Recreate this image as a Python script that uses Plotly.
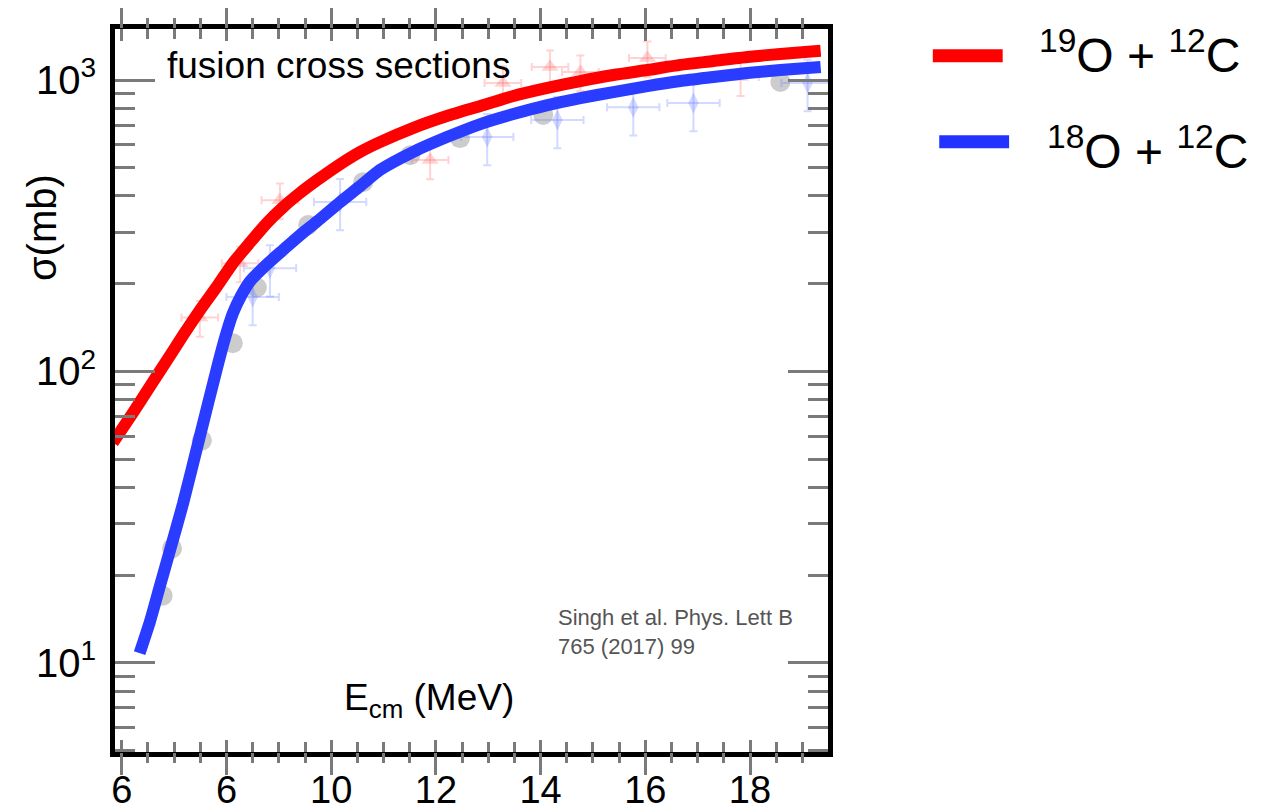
import plotly.graph_objects as go

# theory curves
red_x = [5.83, 6.21, 6.54, 6.86, 7.17, 7.49, 7.82, 8.12, 8.45, 8.77, 9.08, 9.40, 9.73, 10.17, 10.55,
         10.93, 11.56, 12.21, 12.85, 13.48, 14.13, 14.76, 15.39, 16.04, 16.67, 17.30, 17.95, 18.58, 19.35]
red_y = [57, 72, 89, 109, 133, 162, 196, 235, 277, 323, 366, 409, 453, 514, 566,
         612, 684, 752, 814, 881, 939, 992, 1040, 1082, 1127, 1162, 1200, 1228, 1259]

blue_x = [6.34, 6.54, 6.73, 6.92, 7.17, 7.49, 7.82, 7.97, 8.12, 8.28, 8.45, 8.77, 9.08, 9.40, 9.73, 10.17,
          10.55, 10.93, 11.56, 12.21, 12.85, 13.48, 14.13, 14.76, 15.39, 16.04, 16.67, 17.30, 17.95, 18.58, 19.35]
blue_y = [10.8, 13.9, 18.4, 24.3, 35.2, 59.8, 103, 130, 158, 182, 204, 233, 261, 293, 327, 381,
          432, 491, 566, 637, 706, 764, 820, 867, 909, 953, 992, 1024, 1057, 1082, 1109]

# faded experimental points behind the curves
gray_x = [6.78, 6.96, 7.53, 8.12, 8.58, 9.56, 10.61, 11.51, 12.46, 14.05, 18.58]
gray_y = [17, 24.7, 58, 125, 194, 318, 446, 552, 632, 759, 985]

pink_x = [7.49, 8.26, 9.02, 11.89, 13.28, 14.18, 14.76, 16.04, 17.82]
pink_y = [153, 235, 387, 531, 977, 1108, 1065, 1190, 1024]

lblue_x = [8.50, 8.83, 10.17, 12.98, 14.32, 15.77, 16.92, 19.10]
lblue_y = [180, 226, 381, 637, 729, 807, 833, 977]

x_ticks = [6, 8, 10, 12, 14, 16, 18]
x_ticktext = ["6", "6", "10", "12", "14", "16", "18"]
y_ticks = [10, 100, 1000]
y_ticktext = ["10<sup>1</sup>", "10<sup>2</sup>", "10<sup>3</sup>"]

FONT = "Liberation Sans, Arial, sans-serif"
TICKGRAY = "#7a7a7a"

fig = go.Figure()

fig.add_trace(go.Scatter(x=gray_x, y=gray_y, mode="markers",
                         marker=dict(symbol="circle", size=20, color="rgba(170,170,170,0.6)"),
                         showlegend=False))
fig.add_trace(go.Scatter(x=pink_x, y=pink_y, mode="markers",
                         marker=dict(symbol="triangle-up", size=15, color="rgba(255,110,110,0.3)"),
                         error_x=dict(type="constant", value=0.35, color="rgba(255,110,110,0.3)", thickness=2, width=4),
                         error_y=dict(type="percent", value=14, color="rgba(255,110,110,0.3)", thickness=2, width=4),
                         showlegend=False))
fig.add_trace(go.Scatter(x=lblue_x, y=lblue_y, mode="markers",
                         marker=dict(symbol="diamond-tall", size=15, color="rgba(110,130,255,0.3)"),
                         error_x=dict(type="constant", value=0.5, color="rgba(110,130,255,0.3)", thickness=2, width=4),
                         error_y=dict(type="percent", value=20, color="rgba(110,130,255,0.3)", thickness=2, width=4),
                         showlegend=False))

fig.add_trace(go.Scatter(x=red_x, y=red_y, mode="lines", line=dict(color="#ff0000", width=12, shape="spline", smoothing=0.6),
                         name="19O + 12C", showlegend=False))
fig.add_trace(go.Scatter(x=blue_x, y=blue_y, mode="lines", line=dict(color="#2a3cff", width=12, shape="spline", smoothing=0.6),
                         name="18O + 12C", showlegend=False))

# empty trace so the second (outside-tick) x axis gets drawn
fig.add_trace(go.Scatter(x=[], y=[], xaxis="x2", yaxis="y", showlegend=False))

# page body has an 8px margin, so the figure is 8px smaller on each side
xr = [5.87, 19.49]
fig.update_layout(
    width=1254, height=804,
    margin=dict(l=107, r=434, t=21, b=60, autoexpand=False),
    paper_bgcolor="white", plot_bgcolor="white",
    font=dict(family=FONT, color="black"),
    xaxis=dict(range=xr, tickvals=x_ticks, ticktext=x_ticktext, showgrid=False, zeroline=False,
               showline=True, linecolor="black", linewidth=5, mirror="ticks", automargin=False,
               ticks="inside", ticklen=12, tickwidth=3, tickcolor=TICKGRAY,
               minor=dict(dtick=0.5, ticks="inside", ticklen=10, tickwidth=3, tickcolor=TICKGRAY, showgrid=False),
               tickfont=dict(size=38, family=FONT)),
    xaxis2=dict(range=xr, overlaying="x", side="bottom", tickvals=x_ticks, showticklabels=False,
                showgrid=False, zeroline=False, showline=False, mirror="ticks", automargin=False,
                ticks="outside", ticklen=22, tickwidth=3, tickcolor=TICKGRAY,
                minor=dict(dtick=0.5, ticks="outside", ticklen=10, tickwidth=3, tickcolor=TICKGRAY, showgrid=False)),
    yaxis=dict(type="log", range=[0.694, 3.175], tickvals=y_ticks, ticktext=y_ticktext, automargin=False,
               showgrid=False, zeroline=False, showline=True, linecolor="black", linewidth=5, mirror="ticks",
               ticks="inside", ticklen=40, tickwidth=3, tickcolor=TICKGRAY,
               minor=dict(dtick="D1", ticks="inside", ticklen=20, tickwidth=3, tickcolor=TICKGRAY, showgrid=False),
               tickfont=dict(size=40, family=FONT), ticklabelstandoff=6),
)

# gray stretches of the frame
fig.add_shape(type="line", xref="paper", yref="y", x0=0, x1=0, y0=1.0, y1=3.127,
              line=dict(color="#666666", width=5))
fig.add_shape(type="line", xref="paper", yref="y", x0=1, x1=1, y0=1.083, y1=3.0,
              line=dict(color="#666666", width=5))

fig.add_annotation(text="fusion cross sections", xref="paper", yref="paper", x=0.070, y=0.950,
                   xanchor="left", yanchor="middle", showarrow=False, font=dict(size=37, family=FONT))
fig.add_annotation(text="σ(mb)", xref="paper", yref="paper", x=-0.102, y=0.725, textangle=-90,
                   xanchor="center", yanchor="middle", showarrow=False, font=dict(size=40, family=FONT))
fig.add_annotation(text="E<sub>cm</sub> (MeV)", xref="paper", yref="paper", x=0.440, y=0.072,
                   xanchor="center", yanchor="middle", showarrow=False, font=dict(size=37, family=FONT))
fig.add_annotation(text="Singh et al. Phys. Lett B<br>765 (2017) 99", xref="paper", yref="paper",
                   x=0.6185, y=0.206, xanchor="left", yanchor="top", align="left", showarrow=False,
                   font=dict(size=22, family=FONT, color="#555555"))

# legend drawn by hand
fig.add_shape(type="line", xref="paper", yref="paper", x0=1.147, x1=1.245, y0=0.963, y1=0.963,
              line=dict(color="#ff0000", width=13))
fig.add_shape(type="line", xref="paper", yref="paper", x0=1.156, x1=1.254, y0=0.844, y1=0.844,
              line=dict(color="#2233ff", width=13))
fig.add_annotation(text="<sup>19</sup>O + <sup>12</sup>C", xref="paper", yref="paper", x=1.293, y=0.968,
                   xanchor="left", yanchor="middle", showarrow=False, font=dict(size=48, family=FONT))
fig.add_annotation(text="<sup>18</sup>O + <sup>12</sup>C", xref="paper", yref="paper", x=1.305, y=0.836,
                   xanchor="left", yanchor="middle", showarrow=False, font=dict(size=48, family=FONT))

fig.write_html("out.html")
